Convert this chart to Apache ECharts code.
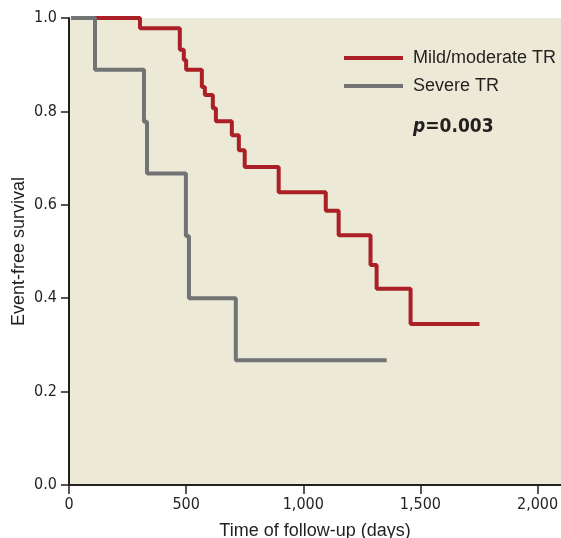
<!DOCTYPE html>
<html>
<head>
<meta charset="utf-8">
<script src="https://cdn.jsdelivr.net/npm/echarts@6/dist/echarts.min.js"></script>
<style>
  html, body { margin: 0; padding: 0; background: #fff; }
  #chart { width: 561px; height: 538px; }
</style>
</head>
<body>
<div id="chart"></div>
<script>
// Kaplan-Meier steps (days, survival after the drop)
const mildDays = [10, 303, 473, 490, 500, 567, 580, 614, 627, 695, 725, 750, 895, 1096, 1151, 1287, 1313, 1458, 1752]
const mildSurv = [1.0, 0.978, 0.932, 0.910, 0.889, 0.852, 0.835, 0.807, 0.779, 0.749, 0.717, 0.681, 0.627, 0.587, 0.535, 0.471, 0.420, 0.345, 0.345]
const severeDays = [10, 111, 320, 333, 499, 512, 712, 1356]
const severeSurv = [1.0, 0.889, 0.778, 0.667, 0.533, 0.400, 0.267, 0.267]
const seriesNames = ['Mild/moderate TR', 'Severe TR']
const pText = '0.003'

const red = '#ab1f26'
const grey = '#727375'
const axisColor = '#231f20'
const tickFont = '"Liberation Sans Narrow", "DejaVu Sans Condensed", "Liberation Sans", sans-serif'

const pairs = (xs, ys) => xs.map((x, i) => [x, ys[i]])

const chart = echarts.init(document.getElementById('chart'))

const option = {
  animation: false,
  grid: {
    left: 69,
    top: 18,
    right: 0,
    bottom: 53,
    containLabel: false,
    outerBoundsMode: 'none',
    show: true,
    backgroundColor: '#ece9d6',
    borderWidth: 0
  },
  legend: {
    orient: 'vertical',
    left: 339,
    top: 43,
    itemWidth: 59,
    itemHeight: 4,
    itemGap: 8,
    icon: 'rect',
    data: seriesNames,
    textStyle: {
      fontFamily: '"Liberation Sans", sans-serif',
      fontSize: 18,
      lineHeight: 20,
      color: '#231f20',
      padding: [0, 0, 0, 5]
    }
  },
  xAxis: {
    type: 'value',
    min: 0,
    max: 2100,
    interval: 500,
    name: 'Time of follow-up (days)',
    nameLocation: 'middle',
    nameGap: 37,
    nameMoveOverlap: false,
    nameTextStyle: {
      fontFamily: '"Liberation Sans", sans-serif',
      fontSize: 18,
      color: '#231f20'
    },
    splitLine: { show: false },
    axisLine: { lineStyle: { color: axisColor, width: 2 } },
    axisTick: { length: 9, lineStyle: { color: axisColor, width: 1.5 } },
    axisLabel: {
      margin: 12,
      showMaxLabel: false,
      fontFamily: tickFont,
      fontSize: 16,
      color: '#231f20',
      formatter: v => (v % 500 === 0 ? v.toLocaleString('en-US') : '')
    }
  },
  yAxis: {
    type: 'value',
    min: 0,
    max: 1,
    interval: 0.2,
    name: 'Event-free survival',
    nameLocation: 'middle',
    nameGap: 41,
    nameMoveOverlap: false,
    nameTextStyle: {
      fontFamily: '"Liberation Sans", sans-serif',
      fontSize: 18,
      color: '#231f20'
    },
    splitLine: { show: false },
    axisLine: { lineStyle: { color: axisColor, width: 2 } },
    axisTick: { length: 8, lineStyle: { color: axisColor, width: 1.5 } },
    axisLabel: {
      margin: 12,
      fontFamily: tickFont,
      fontSize: 16,
      color: '#231f20',
      formatter: v => v.toFixed(1)
    }
  },
  series: [
    {
      name: seriesNames[0],
      type: 'line',
      step: 'end',
      symbol: 'none',
      color: red,
      lineStyle: { width: 4, color: red },
      data: pairs(mildDays, mildSurv)
    },
    {
      name: seriesNames[1],
      type: 'line',
      step: 'end',
      symbol: 'none',
      color: grey,
      lineStyle: { width: 4, color: grey },
      data: pairs(severeDays, severeSurv)
    }
  ],
  graphic: [
    {
      type: 'text',
      left: 413,
      top: 118,
      style: {
        text: '{p|p}{v|=' + pText + '}',
        rich: {
          p: {
            fontFamily: tickFont,
            fontSize: 19,
            fontWeight: 'bold',
            fontStyle: 'italic',
            fill: '#231f20'
          },
          v: {
            fontFamily: tickFont,
            fontSize: 19,
            fontWeight: 'bold',
            fill: '#231f20'
          }
        }
      }
    }
  ]
}

chart.setOption(option)
</script>
</body>
</html>
